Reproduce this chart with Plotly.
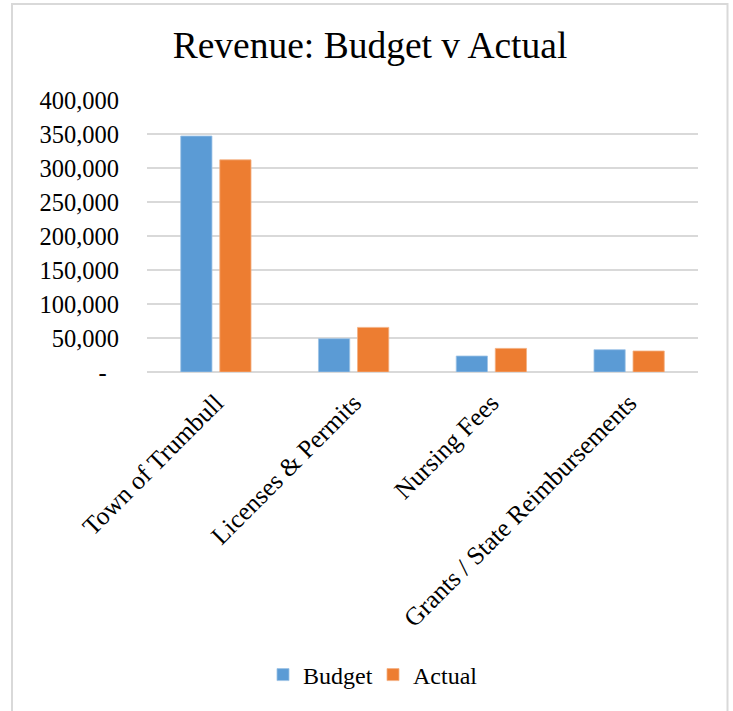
import plotly.graph_objects as go

categories = ["Town of Trumbull", "Licenses & Permits", "Nursing Fees", "Grants / State Reimbursements"]
budget = [347000, 49000, 23500, 32800]
actual = [312000, 65600, 34700, 30900]
tick_vals = [0, 50000, 100000, 150000, 200000, 250000, 300000, 350000, 400000]
tick_text = ["-\u00a0\u00a0", "50,000", "100,000", "150,000", "200,000", "250,000", "300,000", "350,000", "400,000"]

FONT = "Liberation Serif, Times New Roman, serif"
W, H = 733, 711
L, R, T, B = 147, 35, 100, 339
pw = W - L - R
ph = H - T - B

def px_x(x):
    return (x - L) / pw

def px_y(y):
    return (H - B - y) / ph

fig = go.Figure()
fig.add_trace(go.Bar(name="Budget", x=categories, y=budget, legend="legend",
                     marker=dict(color="#5B9BD5", line=dict(color="#9DC3E6", width=0.8))))
fig.add_trace(go.Bar(name="Actual", x=categories, y=actual, legend="legend2",
                     marker=dict(color="#ED7D31", line=dict(color="#F4B183", width=0.8))))

legend_common = dict(orientation="h", xanchor="left", y=px_y(675), yanchor="middle",
                     font=dict(family=FONT, size=24), itemwidth=30, bgcolor="rgba(0,0,0,0)")

fig.update_layout(
    width=W, height=H,
    margin=dict(l=L, r=R, t=T, b=B, autoexpand=False),
    paper_bgcolor="white", plot_bgcolor="white",
    barmode="group", bargap=0.433, bargroupgap=0.2,
    font=dict(family=FONT, size=24, color="#000000"),
    title=dict(text="Revenue: Budget v Actual", x=370 / W, xanchor="center",
               y=1 - 45 / H, yanchor="middle", yref="container",
               font=dict(family=FONT, size=37.5, color="#000000")),
    showlegend=True,
    legend=dict(x=px_x(263), **legend_common),
    legend2=dict(x=px_x(373), **legend_common),
    xaxis=dict(tickangle=-45, showgrid=False, showline=False, ticks="", automargin=False,
               ticklabelstandoff=10, tickfont=dict(family=FONT, size=25.5)),
    yaxis=dict(range=[0, 400000], tickvals=tick_vals, ticktext=tick_text,
               showgrid=True, gridcolor="#D9D9D9", gridwidth=1.5,
               zeroline=True, zerolinecolor="#D9D9D9", zerolinewidth=1.5,
               showline=False, ticks="", ticklabelstandoff=27, automargin=False,
               tickfont=dict(family=FONT, size=24.5)),
    shapes=[dict(type="rect", xref="paper", yref="paper",
                 x0=px_x(12), x1=px_x(727.5), y0=px_y(4), y1=px_y(730),
                 line=dict(color="#D9D9D9", width=2), layer="below")],
)

fig.write_html("out.html", config={"displayModeBar": False},
               post_script="document.body.style.margin='0';")
